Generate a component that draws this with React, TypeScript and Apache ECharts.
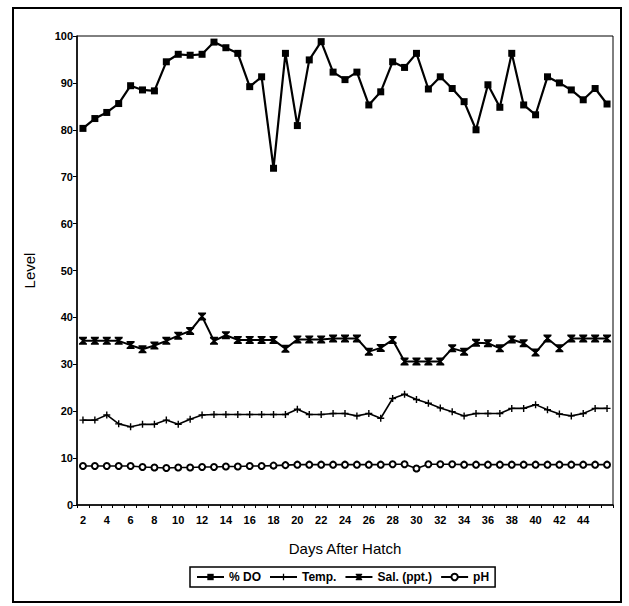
import React, { useEffect, useRef } from "react";
import * as echarts from "echarts";

// Days after hatch (category axis)
const days = [
  "2", "3", "4", "5", "6", "7", "8", "9", "10", "11", "12", "13", "14", "15", "16",
  "17", "18", "19", "20", "21", "22", "23", "24", "25", "26", "27", "28", "29", "30",
  "31", "32", "33", "34", "35", "36", "37", "38", "39", "40", "41", "42", "43", "44",
  "45", "46",
];

// Dissolved oxygen, % saturation
const dissolvedOxygen = [
  80.3, 82.4, 83.7, 85.6, 89.4, 88.5, 88.3, 94.5, 96.1, 95.9,
  96.1, 98.7, 97.5, 96.3, 89.2, 91.3, 71.8, 96.3, 80.9, 94.9,
  98.8, 92.3, 90.7, 92.3, 85.3, 88.1, 94.5, 93.3, 96.3, 88.7,
  91.3, 88.8, 86.0, 80.0, 89.6, 84.8, 96.3, 85.3, 83.2, 91.3,
  90.0, 88.5, 86.4, 88.8, 85.5,
];

// Water temperature
const temperature = [
  18.1, 18.1, 19.2, 17.3, 16.7, 17.2, 17.2, 18.1, 17.2, 18.3,
  19.2, 19.3, 19.3, 19.3, 19.3, 19.3, 19.3, 19.3, 20.4, 19.3, 19.3,
  19.5, 19.5, 19.0, 19.5, 18.5, 22.7, 23.6, 22.5, 21.7, 20.7, 19.9,
  19.0, 19.5, 19.5, 19.5, 20.6, 20.6, 21.4, 20.3, 19.4, 19.0, 19.5,
  20.6, 20.6,
];

// Salinity, ppt
const salinity = [
  35.0, 35.0, 35.0, 35.0, 34.1, 33.2, 34.0, 35.0, 36.1, 37.1, 40.2,
  35.0, 36.2, 35.2, 35.2, 35.2, 35.2, 33.3, 35.3, 35.3, 35.3,
  35.5, 35.5, 35.5, 32.7, 33.5, 35.2, 30.6, 30.6, 30.6, 30.6, 33.4,
  32.7, 34.6, 34.5, 33.4, 35.3, 34.5, 32.5, 35.5, 33.4, 35.5, 35.5,
  35.5, 35.5,
];

// pH
const ph = [
  8.3, 8.3, 8.3, 8.3, 8.3, 8.1, 8.0, 7.9, 8.0, 8.0,
  8.1, 8.1, 8.2, 8.2, 8.3, 8.3, 8.4, 8.5, 8.6, 8.6,
  8.6, 8.6, 8.6, 8.6, 8.6, 8.6, 8.7, 8.7, 7.8,
  8.7, 8.7, 8.7, 8.6, 8.6, 8.6, 8.6, 8.6, 8.6, 8.6,
  8.6, 8.6, 8.6, 8.6, 8.6, 8.6,
];

const FONT = 'Arial, "Liberation Sans", Helvetica, sans-serif';

// marker outlines
const PLUS = "path://M3.2,0H4.8V3.2H8V4.8H4.8V8H3.2V4.8H0V3.2H3.2Z";
const HOURGLASS = "path://M0,0H8V1.4L5,4L8,6.6V8H0V6.6L3,4L0,1.4Z";

export default function App() {
  const ref = useRef<HTMLDivElement>(null);

  useEffect(() => {
    if (!ref.current) return;
    const chart = echarts.init(ref.current, undefined, { renderer: "svg" });

    const base = {
      type: "line" as const,
      color: "#000",
      showSymbol: true,
      showAllSymbol: true,
      emphasis: { disabled: true },
    };

    chart.setOption({
      animation: false,
      backgroundColor: "#fff",
      textStyle: { fontFamily: FONT, color: "#000" },
      grid: {
        left: 77,
        right: 16,
        top: 36,
        bottom: 101,
        show: true,
        borderColor: "#000",
        borderWidth: 1,
      },
      legend: {
        left: 190,
        top: 567,
        orient: "horizontal",
        itemWidth: 27,
        itemHeight: 8,
        itemGap: 8,
        padding: [4, 6],
        borderColor: "#000",
        borderWidth: 1.5,
        textStyle: { fontFamily: FONT, fontWeight: "bold", fontSize: 12, color: "#000" },
        data: ["% DO", "Temp.", "Sal. (ppt.)", "pH"],
      },
      xAxis: {
        type: "category",
        data: days,
        boundaryGap: true,
        name: "Days After Hatch",
        nameLocation: "middle",
        nameGap: 36,
        nameTextStyle: { fontFamily: FONT, fontSize: 15, color: "#000" },
        axisLine: { lineStyle: { color: "#000", width: 1.5 } },
        axisTick: { show: true, interval: 0, length: 3, lineStyle: { color: "#000" } },
        axisLabel: {
          interval: (index: number) => index % 2 === 0 && index < 44,
          margin: 9,
          fontFamily: FONT,
          fontWeight: "bold",
          fontSize: 11,
          color: "#000",
        },
        splitLine: { show: false },
      },
      yAxis: {
        type: "value",
        min: 0,
        max: 100,
        interval: 10,
        name: "Level",
        nameLocation: "middle",
        nameGap: 40,
        nameTextStyle: { fontFamily: FONT, fontSize: 15, color: "#000" },
        axisLine: { show: true, lineStyle: { color: "#000", width: 1.5 } },
        axisTick: { show: true, length: 4, lineStyle: { color: "#000" } },
        axisLabel: {
          margin: 4,
          fontFamily: FONT,
          fontWeight: "bold",
          fontSize: 11,
          color: "#000",
        },
        splitLine: { show: false },
      },
      series: [
        {
          ...base,
          name: "% DO",
          data: dissolvedOxygen,
          symbol: "rect",
          symbolSize: 7,
          lineStyle: { color: "#000", width: 2.2 },
          itemStyle: { color: "#000" },
        },
        {
          ...base,
          name: "Temp.",
          data: temperature,
          symbol: PLUS,
          symbolSize: 7,
          lineStyle: { color: "#000", width: 1.6 },
          itemStyle: { color: "#000" },
        },
        {
          ...base,
          name: "Sal. (ppt.)",
          data: salinity,
          symbol: HOURGLASS,
          symbolSize: 8,
          lineStyle: { color: "#000", width: 2 },
          itemStyle: { color: "#000" },
        },
        {
          ...base,
          name: "pH",
          data: ph,
          symbol: "emptyCircle",
          symbolSize: 6,
          lineStyle: { color: "#000", width: 1.6 },
          itemStyle: { color: "#000", borderColor: "#000", borderWidth: 1.3 },
        },
      ],
      graphic: [
        {
          type: "rect",
          silent: true,
          shape: { x: 13, y: 8, width: 608, height: 594 },
          style: { fill: "none", stroke: "#000", lineWidth: 2 },
        },
      ],
    });

    return () => chart.dispose();
  }, []);

  return (
    <div
      ref={ref}
      style={{ position: "fixed", left: 0, top: 0, width: 629, height: 606 }}
    />
  );
}
